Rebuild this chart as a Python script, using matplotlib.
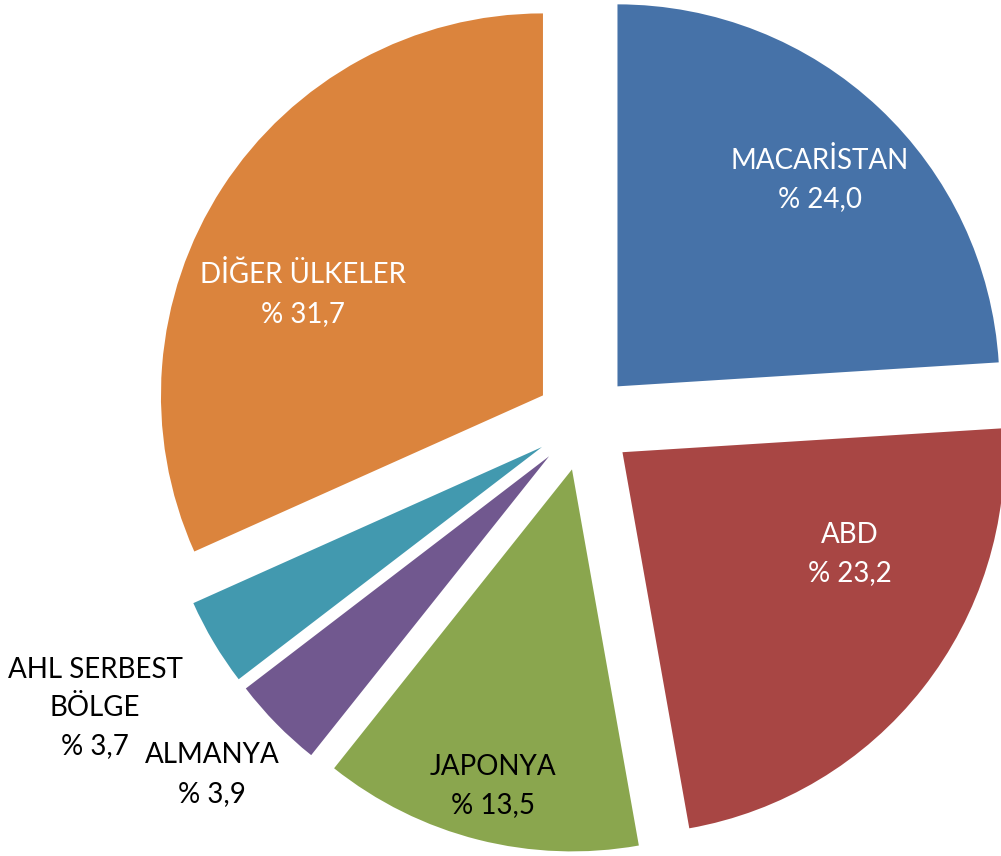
import matplotlib
matplotlib.use("Agg")
import matplotlib.pyplot as plt

plt.rcParams['font.family'] = ['Lato', 'DejaVu Sans']

countries = ['MACARİSTAN', 'ABD', 'JAPONYA', 'ALMANYA', 'AHL SERBEST\nBÖLGE', 'DİĞER ÜLKELER']
shares = [24.0, 23.2, 13.5, 3.9, 3.7, 31.7]
colors = ['#4672A8', '#A84644', '#8AA64E', '#71588F', '#4299AF', '#DB843D']
text_colors = ['white', 'white', 'black', 'black', 'black', 'white']

# label spots in axes data units (radius = 1)
label_xy = [(0.618, 0.634), (0.696, -0.346), (-0.238, -0.953),
            (-0.974, -0.923), (-1.280, -0.749), (-0.736, 0.335)]

R_PX = 382.0
CX, CY = 584.0, 422.0
W, H = 1001, 856

fig = plt.figure(figsize=(W / 100, H / 100), dpi=100)
ax = fig.add_axes([0, 0, 1, 1])
ax.pie(shares, colors=colors, startangle=90, counterclock=False,
       explode=[0.128] * len(shares), radius=1.0,
       wedgeprops=dict(linewidth=0))

for name, val, (x, y), tc in zip(countries, shares, label_xy, text_colors):
    txt = name + '\n% ' + f'{val:.1f}'.replace('.', ',')
    ax.text(x, y, txt, ha='center', va='center', color=tc,
            fontsize=20, linespacing=1.58)

ax.set_xlim(-CX / R_PX, (W - CX) / R_PX)
ax.set_ylim(-(H - CY) / R_PX, CY / R_PX)
ax.set_aspect('auto')
ax.axis('off')

fig.savefig('out.png', dpi=100)
